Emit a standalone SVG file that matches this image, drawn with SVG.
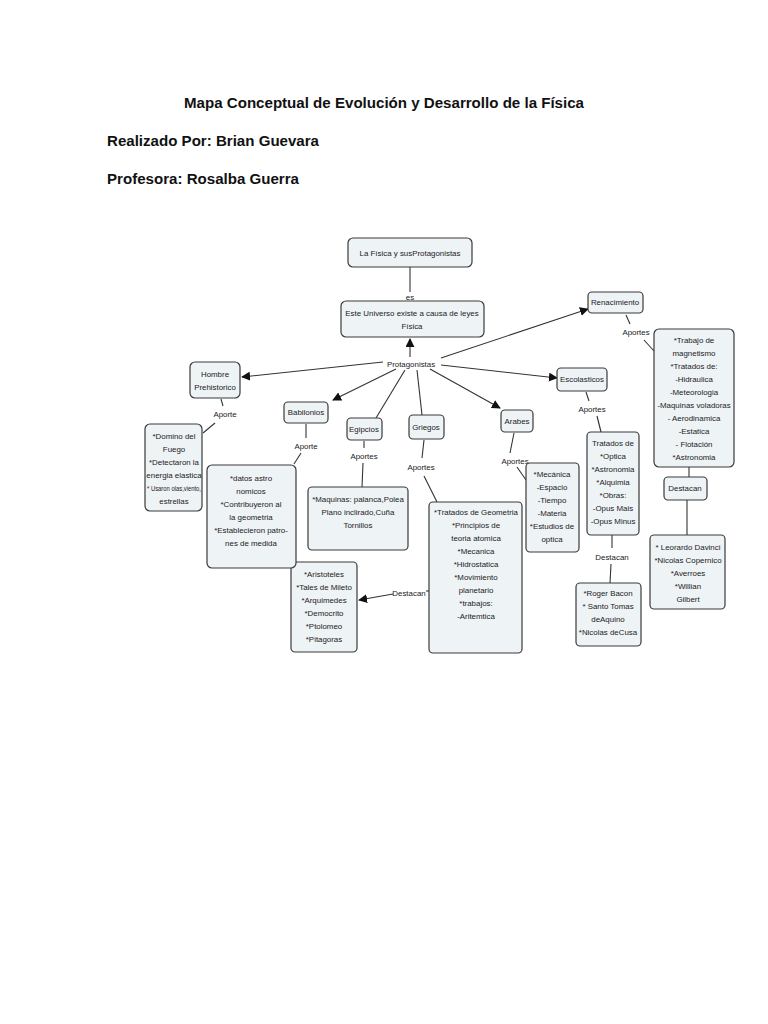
<svg xmlns="http://www.w3.org/2000/svg" width="768" height="1024" viewBox="0 0 768 1024">
<style>
.h{font-family:"Liberation Sans",Arial,sans-serif;font-weight:bold;font-size:14px;fill:#111}
.n rect{fill:#eef3f6;stroke:#3a3a3a;stroke-width:1.2}
text.t{font-family:"Liberation Sans",Arial,sans-serif;font-size:7.9px;fill:#222;text-anchor:middle}
.c line,.c path{stroke:#333;stroke-width:1.1;fill:none}
</style>
<defs>
<marker id="ar" viewBox="0 0 10 10" refX="9" refY="5" markerWidth="9" markerHeight="9" markerUnits="userSpaceOnUse" orient="auto">
<path d="M0,0 L10,5 L0,10 z" fill="#111"/>
</marker>
</defs>
<rect width="768" height="1024" fill="#fff"/>
<text class="h" x="184" y="108" textLength="400" lengthAdjust="spacingAndGlyphs">Mapa Conceptual de Evolución y Desarrollo de la Física</text>
<text class="h" x="107" y="146" textLength="212" lengthAdjust="spacingAndGlyphs">Realizado Por: Brian Guevara</text>
<text class="h" x="107" y="184" textLength="192" lengthAdjust="spacingAndGlyphs">Profesora: Rosalba Guerra</text>

<g class="c" id="connectors">
<line x1="410" y1="267" x2="410" y2="292"/>
<line x1="410" y1="357" x2="410" y2="339" marker-end="url(#ar)"/>
<line x1="441" y1="358" x2="588" y2="309" marker-end="url(#ar)"/>
<line x1="441" y1="365" x2="557" y2="378" marker-end="url(#ar)"/>
<line x1="430" y1="369" x2="500" y2="408" marker-end="url(#ar)"/>
<line x1="417" y1="370" x2="422" y2="415"/>
<line x1="405" y1="370" x2="376" y2="418"/>
<line x1="396" y1="369" x2="333" y2="400" marker-end="url(#ar)"/>
<line x1="383" y1="362" x2="242" y2="377" marker-end="url(#ar)"/>
<line x1="626" y1="315" x2="630" y2="324"/>
<line x1="644" y1="340" x2="654" y2="351"/>
<line x1="689" y1="467" x2="689" y2="477"/>
<line x1="687" y1="500" x2="687" y2="535"/>
<line x1="586" y1="392" x2="589" y2="401"/>
<line x1="597" y1="416" x2="601" y2="432"/>
<line x1="612" y1="535" x2="612" y2="548"/>
<line x1="611" y1="564" x2="610" y2="583"/>
<line x1="514" y1="433" x2="510" y2="453"/>
<line x1="517" y1="467" x2="526" y2="480"/>
<line x1="424" y1="440" x2="422" y2="458"/>
<line x1="424" y1="476" x2="437" y2="502"/>
<line x1="393" y1="594" x2="359" y2="600" marker-end="url(#ar)"/>
<line x1="426" y1="591" x2="429" y2="591"/>
<line x1="364" y1="441" x2="364" y2="448"/>
<line x1="363" y1="463" x2="362" y2="487"/>
<line x1="306" y1="424" x2="306" y2="438"/>
<line x1="301" y1="453" x2="294" y2="464"/>
<line x1="221" y1="399" x2="223" y2="406"/>
<line x1="215" y1="423" x2="203" y2="433"/>
<text class="t" x="410" y="300">es</text>
<text class="t" x="411" y="367">Protagonistas</text>
<text class="t" x="636" y="335">Aportes</text>
<text class="t" x="592" y="412">Aportes</text>
<text class="t" x="612" y="560">Destacan</text>
<text class="t" x="515" y="464">Aportes</text>
<text class="t" x="421" y="470">Aportes</text>
<text class="t" x="409" y="596">Destacan</text>
<text class="t" x="364" y="459">Aportes</text>
<text class="t" x="306" y="449">Aporte</text>
<text class="t" x="225" y="417">Aporte</text>
</g>

<g class="n" id="n-fisica"><rect x="348" y="238" width="124" height="29" rx="5"/><text class="t" x="410" y="256">La Física y susProtagonistas</text></g>
<g class="n" id="n-universo"><rect x="341" y="301" width="143" height="36" rx="5"/><text class="t" x="412" y="316">Este Universo existe a causa de leyes</text><text class="t" x="412" y="329">Física</text></g>
<g class="n" id="n-renacimiento"><rect x="588" y="292" width="55" height="21" rx="4"/><text class="t" x="615" y="305">Renacimiento</text></g>
<g class="n" id="n-ren-aportes"><rect x="654" y="329" width="80" height="138" rx="5"/>
<text class="t" x="694" y="343">*Trabajo de</text><text class="t" x="694" y="356">magnetismo</text><text class="t" x="694" y="369">*Tratados de:</text><text class="t" x="694" y="382">-Hidraulica</text><text class="t" x="694" y="395">-Meteorologia</text><text class="t" x="694" y="408">-Maquinas voladoras</text><text class="t" x="694" y="421">- Aerodinamica</text><text class="t" x="694" y="434">-Estatica</text><text class="t" x="694" y="447">- Flotación</text><text class="t" x="694" y="460">*Astronomia</text></g>
<g class="n" id="n-ren-destacan"><rect x="664" y="477" width="43" height="23" rx="4"/><text class="t" x="685" y="491">Destacan</text></g>
<g class="n" id="n-ren-personas"><rect x="650" y="535" width="75" height="74" rx="4"/>
<text class="t" x="688" y="550">* Leorardo Davinci</text><text class="t" x="688" y="563">*Nicolas Copernico</text><text class="t" x="688" y="576">*Averroes</text><text class="t" x="688" y="589">*Willian</text><text class="t" x="688" y="602">Gilbert</text></g>
<g class="n" id="n-escolasticos"><rect x="557" y="368" width="50" height="23" rx="4"/><text class="t" x="582" y="382">Escolasticos</text></g>
<g class="n" id="n-esc-aportes"><rect x="587" y="432" width="52" height="103" rx="4"/>
<text class="t" x="613" y="446">Tratados de</text><text class="t" x="613" y="459">*Optica</text><text class="t" x="613" y="472">*Astronomia</text><text class="t" x="613" y="485">*Alquimia</text><text class="t" x="613" y="498">*Obras:</text><text class="t" x="613" y="511">-Opus Mais</text><text class="t" x="613" y="524">-Opus Minus</text></g>
<g class="n" id="n-esc-personas"><rect x="576" y="583" width="65" height="63" rx="4"/>
<text class="t" x="608" y="596">*Roger Bacon</text><text class="t" x="608" y="609">* Santo Tomas</text><text class="t" x="608" y="622">deAquino</text><text class="t" x="608" y="635">*Nicolas deCusa</text></g>
<g class="n" id="n-arabes"><rect x="501" y="410" width="32" height="22" rx="4"/><text class="t" x="517" y="424">Arabes</text></g>
<g class="n" id="n-arabes-aportes"><rect x="526" y="463" width="53" height="89" rx="4"/>
<text class="t" x="552" y="477">*Mecánica</text><text class="t" x="552" y="490">-Espacio</text><text class="t" x="552" y="503">-Tiempo</text><text class="t" x="552" y="516">-Materia</text><text class="t" x="552" y="529">*Estudios de</text><text class="t" x="552" y="542">optica</text></g>
<g class="n" id="n-griegos"><rect x="409" y="415" width="35" height="24" rx="4"/><text class="t" x="426" y="430">Griegos</text></g>
<g class="n" id="n-griegos-aportes"><rect x="429" y="502" width="93" height="151" rx="4"/>
<text class="t" x="476" y="515">*Tratados de Geometria</text><text class="t" x="476" y="528">*Principios de</text><text class="t" x="476" y="541">teoria atomica</text><text class="t" x="476" y="554">*Mecanica</text><text class="t" x="476" y="567">*Hidrostatica</text><text class="t" x="476" y="580">*Movimiento</text><text class="t" x="476" y="593">planetario</text><text class="t" x="476" y="606">*trabajos:</text><text class="t" x="476" y="619">-Aritemtica</text></g>
<g class="n" id="n-griegos-personas"><rect x="291" y="562" width="66" height="90" rx="4"/>
<text class="t" x="324" y="577">*Aristoteles</text><text class="t" x="324" y="590">*Tales de Mileto</text><text class="t" x="324" y="603">*Arquimedes</text><text class="t" x="324" y="616">*Democrito</text><text class="t" x="324" y="629">*Ptolomeo</text><text class="t" x="324" y="642">*Pitagoras</text></g>
<g class="n" id="n-egipcios"><rect x="347" y="418" width="35" height="22" rx="4"/><text class="t" x="364" y="432">Egipcios</text></g>
<g class="n" id="n-egipcios-aportes"><rect x="308" y="487" width="100" height="63" rx="4"/>
<text class="t" x="358" y="502">*Maquinas:  palanca,Polea</text><text class="t" x="358" y="515">Plano inclirado,Cuña</text><text class="t" x="358" y="528">Tornillos</text></g>
<g class="n" id="n-babilonios"><rect x="284" y="402" width="44" height="21" rx="4"/><text class="t" x="306" y="415">Babilonios</text></g>
<g class="n" id="n-babilonios-aportes"><rect x="207" y="465" width="89" height="103" rx="5"/>
<text class="t" x="251" y="481">*datos astro</text><text class="t" x="251" y="494">nomicos</text><text class="t" x="251" y="507">*Contribuyeron al</text><text class="t" x="251" y="520">la geometria</text><text class="t" x="251" y="533">*Establecieron patro-</text><text class="t" x="251" y="546">nes de medida</text></g>
<g class="n" id="n-hombre"><rect x="190" y="362" width="50" height="36" rx="5"/><text class="t" x="215" y="377">Hombre</text><text class="t" x="215" y="390">Prehistorico</text></g>
<g class="n" id="n-hombre-aportes"><rect x="145" y="424" width="57" height="87" rx="5"/>
<text class="t" x="174" y="439">*Domino del</text><text class="t" x="174" y="452">Fuego</text><text class="t" x="174" y="465">*Detectaron la</text><text class="t" x="174" y="478">energia elastica</text><text class="t" x="174" y="491" textLength="54" lengthAdjust="spacingAndGlyphs">* Usaron olas,viento,</text><text class="t" x="174" y="504">estrellas</text></g>
</svg>
